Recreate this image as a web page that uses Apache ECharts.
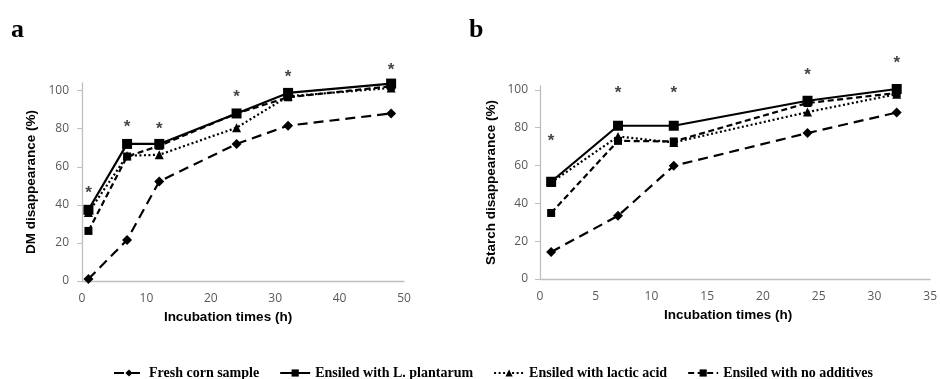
<!DOCTYPE html>
<html>
<head>
<meta charset="utf-8">
<script src="https://cdn.jsdelivr.net/npm/echarts@6/dist/echarts.min.js"></script>
<style>html,body{margin:0;padding:0;background:#fff;}#c{width:940px;height:379px;}</style>
</head>
<body>
<div id="c"></div>
<script>
// ---- data ----
const seriesNames = ['Fresh corn sample', 'Ensiled with L. plantarum', 'Ensiled with lactic acid', 'Ensiled with no additives'];
// panel a: DM disappearance (%)
const hoursA = [1, 7, 12, 24, 32, 48];
const freshA = [1, 21.6, 52.3, 72, 81.6, 88];
const plantA = [37.4, 72, 72, 88, 98.8, 103.7];
const lacticA = [36, 65.8, 66.3, 80.5, 97, 101.4];
const noAddA = [26.3, 65.4, 71, 88, 96.5, 102.3];
const starA = [48, 82.6, 82, 98.4, 109, 113];
// panel b: Starch disappearance (%)
const hoursB = [1, 7, 12, 24, 32];
const freshB = [14.3, 33.4, 59.8, 77.1, 88];
const plantB = [51.4, 81, 81, 94.2, 100.4];
const lacticB = [51, 75.3, 72.2, 88.2, 97.7];
const noAddB = [34.9, 73, 72.7, 93, 98.3];
const starB = [74.8, 100, 100, 110, 116];
// tick labels
const yTicks = [0, 20, 40, 60, 80, 100];

const pair = (xs, ys) => xs.map((x, i) => [x, ys[i]]);

const styles = [
  {symbol: 'diamond', symbolSize: 10, lineStyle: {type: [10, 6], width: 2.2}},
  {symbol: 'rect', symbolSize: 10, lineStyle: {type: 'solid', width: 2.2}},
  {symbol: 'triangle', symbolSize: 9, lineStyle: {type: [2, 2.5], width: 2.2}},
  {symbol: 'rect', symbolSize: 8, lineStyle: {type: [6, 3.5], width: 2.2}}
];

function lineSeries(idx, xs, ys, axisIdx) {
  const s = styles[idx];
  return {
    type: 'line', name: seriesNames[idx], xAxisIndex: axisIdx, yAxisIndex: axisIdx,
    data: pair(xs, ys), symbol: s.symbol, symbolSize: s.symbolSize, showSymbol: true,
    itemStyle: {color: '#000'}, lineStyle: Object.assign({color: '#000'}, s.lineStyle),
    animation: false, z: 3 + (3 - idx)
  };
}
function starSeries(xs, ys, axisIdx) {
  return {
    type: 'scatter', xAxisIndex: axisIdx, yAxisIndex: axisIdx, data: pair(xs, ys),
    symbolSize: 1, itemStyle: {color: 'rgba(0,0,0,0)'}, clip: false, silent: true,
    label: {show: true, formatter: '*', position: 'inside', color: '#10131f', fontSize: 17,
      fontWeight: 'bold', fontFamily: 'Liberation Sans', offset: [0, 4]},
    animation: false, legendHoverLink: false
  };
}

const axisLine = {show: true, lineStyle: {color: '#bfbfbf', width: 1.3}};
const labelStyle = {color: '#595959', fontSize: 12, fontFamily: 'Open Sans'};
const nameStyle = {color: '#000', fontSize: 13.5, fontWeight: 'bold', fontFamily: 'Liberation Sans'};

const chart = echarts.init(document.getElementById('c'), null, {renderer: 'canvas'});
chart.setOption({
  animation: false,
  backgroundColor: '#fff',
  title: [
    {text: 'a', left: 6, top: 12, textStyle: {fontFamily: 'Liberation Serif', fontWeight: 'bold', fontSize: 26, color: '#000'}},
    {text: 'b', left: 464, top: 12, textStyle: {fontFamily: 'Liberation Serif', fontWeight: 'bold', fontSize: 26, color: '#000'}}
  ],
  legend: {
    data: seriesNames, left: 108, top: 361, itemWidth: 30, itemHeight: 9, itemGap: 20,
    textStyle: {fontFamily: 'Liberation Serif', fontWeight: 'bold', fontSize: 14, color: '#000'}
  },
  grid: [
    {left: 82, right: 536, top: 83, bottom: 98},
    {left: 540, right: 6, top: 86, bottom: 100}
  ],
  xAxis: [
    {type: 'value', gridIndex: 0, min: 0, max: 50, interval: 10, axisLine: axisLine, axisTick: {show: false},
      splitLine: {show: false}, axisLabel: Object.assign({margin: 12}, labelStyle),
      name: 'Incubation times (h)', nameLocation: 'middle', nameGap: 26,
      nameTextStyle: Object.assign({padding: [0, 30, 0, 0]}, nameStyle)},
    {type: 'value', gridIndex: 1, min: 0, max: 35, interval: 5, axisLine: axisLine, axisTick: {show: false},
      splitLine: {show: false}, axisLabel: Object.assign({margin: 12}, labelStyle),
      name: 'Incubation times (h)', nameLocation: 'middle', nameGap: 26,
      nameTextStyle: Object.assign({padding: [0, 14, 0, 0]}, nameStyle)}
  ],
  yAxis: [
    {type: 'value', gridIndex: 0, min: 0, max: 104, interval: 20, axisLine: axisLine,
      axisTick: {show: true, length: 5, lineStyle: {color: '#bfbfbf'}, customValues: yTicks},
      splitLine: {show: false}, axisLabel: Object.assign({margin: 13, customValues: yTicks}, labelStyle),
      name: 'DM disappearance (%)', nameLocation: 'middle', nameGap: 44, nameTextStyle: nameStyle},
    {type: 'value', gridIndex: 1, min: 0, max: 102, interval: 20, axisLine: axisLine,
      axisTick: {show: true, length: 5, lineStyle: {color: '#bfbfbf'}, customValues: yTicks},
      splitLine: {show: false}, axisLabel: Object.assign({margin: 12, customValues: yTicks}, labelStyle),
      name: 'Starch disappearance (%)', nameLocation: 'middle', nameGap: 42, nameTextStyle: nameStyle}
  ],
  series: [
    lineSeries(0, hoursA, freshA, 0),
    lineSeries(1, hoursA, plantA, 0),
    lineSeries(2, hoursA, lacticA, 0),
    lineSeries(3, hoursA, noAddA, 0),
    lineSeries(0, hoursB, freshB, 1),
    lineSeries(1, hoursB, plantB, 1),
    lineSeries(2, hoursB, lacticB, 1),
    lineSeries(3, hoursB, noAddB, 1),
    starSeries(hoursA, starA, 0),
    starSeries(hoursB, starB, 1)
  ]
});
</script>
</body>
</html>
